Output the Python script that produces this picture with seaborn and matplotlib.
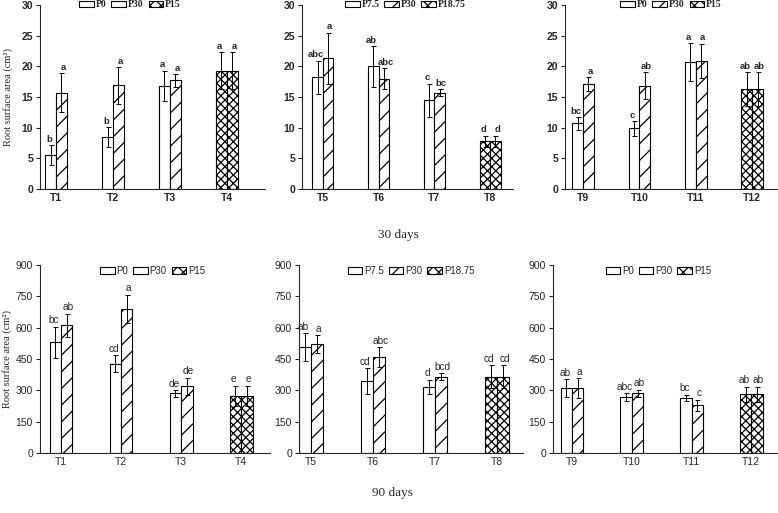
import matplotlib
matplotlib.use('Agg')
import matplotlib.pyplot as plt
from matplotlib.patches import Patch
import pandas as pd
import seaborn as sns


# 30 days
groups_30 = [['T1', 'T2', 'T3', 'T4'], ['T5', 'T6', 'T7', 'T8'], ['T9', 'T10', 'T11', 'T12']]
left_30 = [[5.5, 8.5, 16.8, 19.3], [18.2, 20.0, 14.5, 7.8], [10.7, 9.9, 20.7, 16.3]]
left_err_30 = [[1.6, 1.6, 2.5, 3.0], [2.7, 3.3, 2.7, 0.9], [1.0, 1.2, 3.1, 2.7]]
right_30 = [[15.7, 16.9, 17.7, 19.3], [21.3, 18.0, 15.7, 7.8], [17.1, 16.8, 20.9, 16.3]]
right_err_30 = [[3.2, 3.0, 1.0, 3.0], [4.2, 1.7, 0.6, 0.9], [1.1, 2.2, 2.8, 2.7]]
left_sig_30 = [['b', 'b', 'a', 'a'], ['abc', 'ab', 'c', 'd'], ['bc', 'c', 'a', 'ab']]
right_sig_30 = [['a', 'a', 'a', 'a'], ['a', 'abc', 'bc', 'd'], ['a', 'ab', 'a', 'ab']]

# 90 days
groups_90 = groups_30
left_90 = [[530, 427, 285, 274], [506, 344, 317, 365], [309, 269, 264, 282]]
left_err_90 = [[75, 41, 16, 48], [67, 62, 33, 55], [43, 18, 16, 36]]
right_90 = [[611, 690, 320, 274], [521, 459, 366, 365], [311, 285, 229, 282]]
right_err_90 = [[56, 67, 40, 48], [43, 47, 16, 55], [46, 18, 26, 36]]
left_sig_90 = [['bc', 'cd', 'de', 'e'], ['ab', 'cd', 'd', 'cd'], ['ab', 'abc', 'bc', 'ab']]
right_sig_90 = [['ab', 'a', 'de', 'e'], ['a', 'abc', 'bcd', 'cd'], ['a', 'ab', 'c', 'ab']]

legend_labels = [['P0', 'P30', 'P15'], ['P7.5', 'P30', 'P18.75'], ['P0', 'P30', 'P15']]
ticks_30 = [0, 5, 10, 15, 20, 25, 30]
ticks_90 = [0, 150, 300, 450, 600, 750, 900]

W, H = 778, 513
SANS = 'Liberation Sans'
SERIF = 'Liberation Serif'
HATCHES = ['', '//', 'xxxx']

sns.set_style('ticks')
plt.rcParams['hatch.linewidth'] = 0.9
plt.rcParams['font.family'] = [SANS, 'DejaVu Sans']


def px_rect(left, top, right, bottom):
   """ pixel box -> figure fraction """
   return [left / W, 1 - bottom / H, (right - left) / W, (bottom - top) / H]


def draw_panel(ax, groups, left, left_err, right, right_err, left_sig, right_sig,
               labels, ticks, xlim, leg_x, leg_y, bold, serif_legend):
   df = pd.DataFrame({
      'group': groups + groups,
      'side': ['left'] * len(groups) + ['right'] * len(groups),
      'value': left + right,
      'err': left_err + right_err,
      'sig': left_sig + right_sig,
   })
   sns.barplot(data=df, x='group', y='value', hue='side', hue_order=['left', 'right'],
               order=groups, palette={'left': 'white', 'right': 'white'}, width=0.38,
               edgecolor='black', linewidth=0.8, errorbar=None, legend=False, ax=ax)
   weight = 'bold' if bold else 'normal'
   sig_size = 6.8 if bold else 7.3
   for k, side in enumerate(['left', 'right']):
      sub = df[df['side'] == side].reset_index(drop=True)
      nudge = -1.2 if k == 0 else 1.2  # letters pulled apart a little, as in the original
      for i, bar in enumerate(ax.containers[k]):
         if i == len(groups) - 1:
            bar.set_hatch(HATCHES[2])
         elif side == 'right':
            bar.set_hatch(HATCHES[1])
         cx = bar.get_x() + bar.get_width() / 2
         top = bar.get_height()
         ax.errorbar(cx, top, yerr=sub.loc[i, 'err'], color='black', lw=0.7,
                     capsize=1.8, capthick=0.7)
         ax.annotate(sub.loc[i, 'sig'], (cx, top + sub.loc[i, 'err']), xytext=(nudge, 1),
                     textcoords='offset points', ha='center', va='bottom',
                     fontsize=sig_size, fontweight=weight)
   ax.set_xlim(*xlim)
   ax.set_ylim(ticks[0], ticks[-1])
   ax.set_yticks(ticks)
   ax.set_xlabel('')
   ax.set_ylabel('')
   ax.tick_params(axis='y', direction='out', length=3, width=0.8, labelsize=7.5, pad=2)
   ax.tick_params(axis='x', length=0, labelsize=7.5, pad=3)
   for t in ax.get_xticklabels() + ax.get_yticklabels():
      t.set_fontweight(weight)
   sns.despine(ax=ax)
   for s in ['left', 'bottom']:
      ax.spines[s].set_linewidth(0.8)
   handles = [Patch(facecolor='white', edgecolor='black', lw=0.8, hatch=h, label=l)
              for h, l in zip(['', '/', 'xxx'], labels)]
   if serif_legend:
      prop = {'family': SERIF, 'weight': 'bold', 'size': 7}
   else:
      prop = {'family': SANS, 'size': 7}
   ax.legend(handles=handles, loc='upper center', bbox_to_anchor=(leg_x, leg_y), ncol=3,
             frameon=False, prop=prop, handlelength=1.5, handleheight=0.6,
             handletextpad=0.2, columnspacing=0.5, borderpad=0.1, borderaxespad=0)


fig = plt.figure(figsize=(W / 100, H / 100), dpi=100)

top_boxes = [(40, 5, 265, 189), (302, 5, 513, 189), (565, 5, 777, 189)]
top_xlims = [(-0.28, 3.67), (-0.375, 3.41), (-0.32, 3.44)]
top_leg_x = [0.40, 0.49, 0.50]
bot_boxes = [(40, 265, 270, 453), (299, 265, 523, 453), (553, 265, 777, 453)]
bot_xlims = [(-0.35, 3.48), (-0.19, 3.42), (-0.32, 3.43)]
bot_leg_x = [0.49, 0.50, 0.47]

for j in range(3):
   ax = fig.add_axes(px_rect(*top_boxes[j]))
   draw_panel(ax, groups_30[j], left_30[j], left_err_30[j], right_30[j], right_err_30[j],
              left_sig_30[j], right_sig_30[j], legend_labels[j], ticks_30,
              top_xlims[j], top_leg_x[j], 1.03, True, True)
   if j == 0:
      ax.set_ylabel('Root surface area (cm²)', family=SERIF, fontsize=7.5)
      ax.yaxis.set_label_coords(-0.12, 0.5)

for j in range(3):
   ax = fig.add_axes(px_rect(*bot_boxes[j]))
   draw_panel(ax, groups_90[j], left_90[j], left_err_90[j], right_90[j], right_err_90[j],
              left_sig_90[j], right_sig_90[j], legend_labels[j], ticks_90,
              bot_xlims[j], bot_leg_x[j], 1.0, False, False)
   if j == 0:
      ax.set_ylabel('Root surface area (cm²)', family=SERIF, fontsize=7.5)
      ax.yaxis.set_label_coords(-0.12, 0.5)

fig.text(398 / W, 1 - 235 / H, '30 days', family=SERIF, fontsize=9.5, ha='center', va='center')
fig.text(392 / W, 1 - 493 / H, '90 days', family=SERIF, fontsize=9.5, ha='center', va='center')

fig.savefig('out.png', dpi=100)
